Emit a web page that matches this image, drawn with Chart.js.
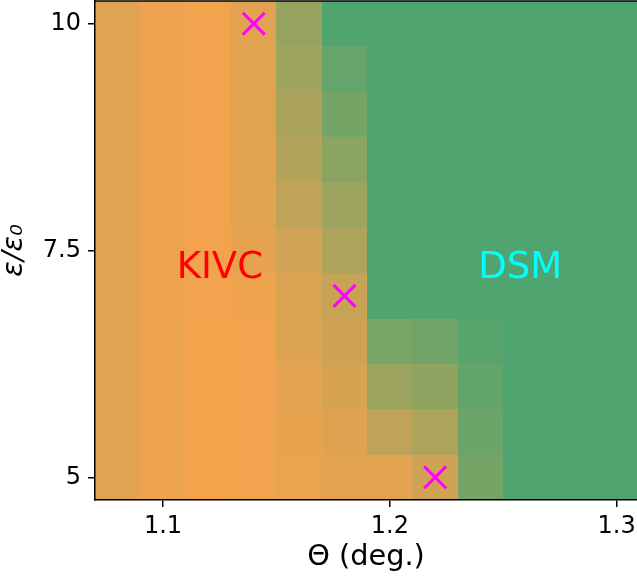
<!DOCTYPE html>
<html>
<head>
<meta charset="utf-8">
<style>
  html, body { margin: 0; padding: 0; background: #fff; overflow: hidden; }
  canvas { display: block; }
</style>
<script src="https://cdn.jsdelivr.net/npm/chart.js"></script>
</head>
<body>
<canvas id="phase" width="637" height="577"></canvas>
<script>
// Twist angle (deg.) of each column of cells
const thetas = [1.08, 1.10, 1.12, 1.14, 1.16, 1.18, 1.20, 1.22, 1.24, 1.26, 1.28, 1.30];
// Dielectric constant of each row, top to bottom
const epsilons = [10, 9.5, 9, 8.5, 8, 7.5, 7, 6.5, 6, 5.5, 5];
// DSM weight of every cell (0 = KIVC, 1 = DSM), one row per epsilon
const dsmWeight = [
  [0.13, 0.05, 0.03, 0.12, 0.57, 1.00, 1.00, 1.00, 1.00, 1.00, 1.00, 1.00],
  [0.13, 0.05, 0.03, 0.12, 0.52, 0.87, 1.00, 1.00, 1.00, 1.00, 1.00, 1.00],
  [0.13, 0.05, 0.03, 0.12, 0.45, 0.77, 1.00, 1.00, 1.00, 1.00, 1.00, 1.00],
  [0.13, 0.05, 0.03, 0.12, 0.40, 0.64, 1.00, 1.00, 1.00, 1.00, 1.00, 1.00],
  [0.13, 0.05, 0.03, 0.12, 0.33, 0.53, 1.00, 1.00, 1.00, 1.00, 1.00, 1.00],
  [0.13, 0.05, 0.02, 0.10, 0.22, 0.43, 1.00, 1.00, 1.00, 1.00, 1.00, 1.00],
  [0.13, 0.05, 0.02, 0.04, 0.17, 0.27, 1.00, 1.00, 1.00, 1.00, 1.00, 1.00],
  [0.13, 0.05, 0.01, 0.03, 0.16, 0.24, 0.76, 0.79, 0.95, 1.00, 1.00, 1.00],
  [0.13, 0.05, 0.01, 0.03, 0.11, 0.19, 0.53, 0.61, 0.88, 1.00, 1.00, 1.00],
  [0.13, 0.05, 0.01, 0.03, 0.08, 0.15, 0.33, 0.43, 0.82, 1.00, 1.00, 1.00],
  [0.14, 0.05, 0.01, 0.03, 0.07, 0.11, 0.11, 0.23, 0.77, 1.00, 1.00, 1.00]
];
// Marked points
const markTheta = [1.14, 1.18, 1.22];
const markEps = [10, 7, 5];
// Phase labels (text baseline-left at these data coords)
const phaseNames = ['KIVC', 'DSM'];
const phaseTheta = [1.106, 1.239];
const phaseEps = [7.2, 7.2];
const phaseColors = ['#ff0000', '#00ffff'];
// Ticks
const xTicks = [1.1, 1.2, 1.3];
const xTickLabels = ['1.1', '1.2', '1.3'];
const yTicks = [5, 7.5, 10];
const yTickLabels = ['5', '7.5', '10'];

Chart.defaults.font.family = "'DejaVu Sans', sans-serif";
Chart.defaults.color = '#000';

const KIVC_RGB = [246, 163, 76];
const DSM_RGB = [79, 164, 111];

//Color of a cell from its DSM weight
function cellColor(w) {
  const c = KIVC_RGB.map((k, i) => Math.round(k + (DSM_RGB[i] - k) * w));
  return `rgb(${c[0]}, ${c[1]}, ${c[2]})`;
}

//Fixed scale size, no extra padding for overflowing labels
function fixSize(prop, size) {
  return (s) => {
    s[prop] = size;
    s.paddingTop = 0;
    s.paddingBottom = 0;
    s.paddingLeft = 0;
    s.paddingRight = 0;
  };
}

//Cells under the markers, labels and top frame above them
const heatmap = {
  id: 'heatmap',
  beforeDatasetsDraw(chart) {
    const {ctx, chartArea, scales: {x, y}} = chart;
    ctx.save();
    ctx.beginPath();
    ctx.rect(chartArea.left, chartArea.top, chartArea.right - chartArea.left, chartArea.bottom - chartArea.top);
    ctx.clip();
    epsilons.forEach((eps, r) => {
      const top = Math.round(y.getPixelForValue(eps + 0.25));
      const bottom = Math.round(y.getPixelForValue(eps - 0.25));
      thetas.forEach((th, c) => {
        const left = Math.round(x.getPixelForValue(th - 0.01));
        const right = Math.round(x.getPixelForValue(th + 0.01));
        ctx.fillStyle = cellColor(dsmWeight[r][c]);
        ctx.fillRect(left, top, right - left, bottom - top);
      });
    });
    ctx.restore();
  },
  afterDatasetsDraw(chart) {
    const {ctx, chartArea, scales: {x, y}} = chart;
    ctx.save();
    ctx.font = "37px 'DejaVu Sans'";
    ctx.textAlign = 'left';
    ctx.textBaseline = 'alphabetic';
    phaseNames.forEach((name, i) => {
      ctx.fillStyle = phaseColors[i];
      ctx.fillText(name, x.getPixelForValue(phaseTheta[i]), y.getPixelForValue(phaseEps[i]));
    });
    // top frame line
    ctx.strokeStyle = '#000';
    ctx.lineWidth = 1.5;
    ctx.beginPath();
    ctx.moveTo(chartArea.left, chartArea.top);
    ctx.lineTo(chartArea.right, chartArea.top);
    ctx.stroke();
    ctx.restore();
  }
};

const chart = new Chart(document.getElementById('phase'), {
  type: 'scatter',
  data: {
    datasets: [
      {
        label: 'marks',
        data: markTheta.map((t, i) => ({x: t, y: markEps[i]})),
        pointStyle: 'crossRot',
        pointRadius: 15.5,
        borderColor: '#ff00ff',
        backgroundColor: '#ff00ff',
        borderWidth: 3,
      }
    ]
  },
  options: {
    responsive: false,
    animation: false,
    devicePixelRatio: 1,
    layout: { autoPadding: false, padding: { top: 1, right: 0, bottom: 0, left: 0 } },
    plugins: {
      legend: { display: false },
      tooltip: { enabled: false }
    },
    scales: {
      x: {
        type: 'linear',
        min: 1.07,
        max: 1.309,
        afterBuildTicks: (s) => { s.ticks = xTicks.map(v => ({value: v})); },
        afterFit: fixSize('height', 77),
        ticks: { callback: (v, i) => xTickLabels[i], font: { size: 24 }, padding: 5, maxRotation: 0, autoSkip: false },
        grid: { drawOnChartArea: false, tickLength: 7, color: '#000', lineWidth: 1.5 },
        border: { display: true, color: '#000', width: 1.5, z: 1 },
        title: { display: true, text: 'Θ (deg.)', font: { size: 28.8, lineHeight: 1 }, padding: { top: 0, bottom: 5 } }
      },
      y: {
        type: 'linear',
        min: 4.75,
        max: 10.25,
        afterBuildTicks: (s) => { s.ticks = yTicks.map(v => ({value: v})); },
        afterFit: fixSize('width', 95),
        ticks: { callback: (v, i) => yTickLabels[i], font: { size: 24 }, padding: 7, autoSkip: false },
        grid: { drawOnChartArea: false, tickLength: 7, color: '#000', lineWidth: 1.5 },
        border: { display: true, color: '#000', width: 1.5, z: 1 },
        title: { display: true, text: 'ε/ε₀', font: { size: 28.8, style: 'italic', lineHeight: 0.98 }, padding: { top: 0, bottom: 0 } }
      }
    }
  },
  plugins: [heatmap]
});
</script>
</body>
</html>
